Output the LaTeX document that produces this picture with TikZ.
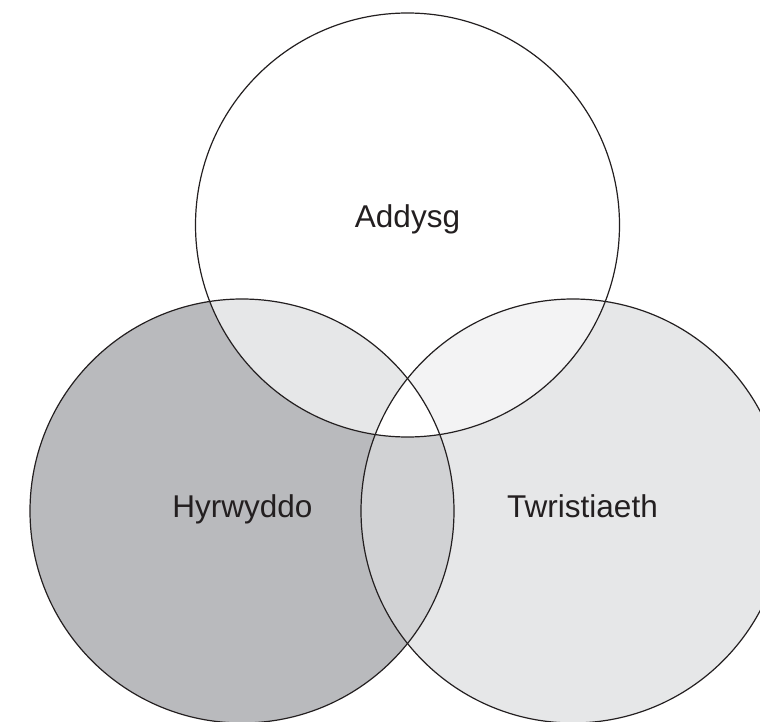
\documentclass[tikz,border=0pt]{standalone}
\usepackage{fontspec}
\setmainfont{Liberation Sans}
\usetikzlibrary{positioning}
\definecolor{ink}{HTML}{231F20}
\definecolor{hyrwyddofill}{HTML}{B9BABD}
\definecolor{twristfill}{HTML}{E6E7E8}
\definecolor{pairfill}{HTML}{D1D2D4}
\definecolor{addhyrfill}{HTML}{E6E7E8}
\definecolor{addtwrfill}{HTML}{F3F3F4}
\tikzset{
    ring/.style ={
        draw=ink,
        line width=1.2pt
    },
    setname/.style ={
        text=ink,
        anchor=base,
        font=\fontsize{31.5}{37}\selectfont
    }
}

\begin{document}
\begin{tikzpicture}[x=1pt,y=-1pt]
    \useasboundingbox (0,0) rectangle (760,722);
    \coordinate (addysg) at (407.5,225);
    \coordinate (hyrwyddo) at (242,511);
    \coordinate (twristiaeth) at (573,511);
    % base fills
    \fill[hyrwyddofill] (hyrwyddo) circle (212pt);
    \fill[twristfill] (twristiaeth) circle (212pt);
    \begin{scope}
        \clip (hyrwyddo) circle (212pt);
        \fill[pairfill] (twristiaeth) circle (212pt);
    \end{scope}
    % top circle and its overlaps
    \fill[white] (addysg) circle (212pt);
    \begin{scope}
        \clip (addysg) circle (212pt);
        \fill[addhyrfill] (hyrwyddo) circle (212pt);
        \fill[addtwrfill] (twristiaeth) circle (212pt);
        \clip (hyrwyddo) circle (212pt);
        \fill[white] (twristiaeth) circle (212pt);
    \end{scope}
    % outlines
    \draw[ring] (addysg) circle (212pt);
    \draw[ring] (hyrwyddo) circle (212pt);
    \draw[ring] (twristiaeth) circle (212pt);
    % labels
    \node[setname] (addysgtext) at (407.5,227) {Addysg};
    \node[setname] (hyrwyddotext) at (242.5,517) {Hyrwyddo};
    \node[setname] (twristiaethtext) at (582.5,517) {Twristiaeth};
\end{tikzpicture}
\end{document}
